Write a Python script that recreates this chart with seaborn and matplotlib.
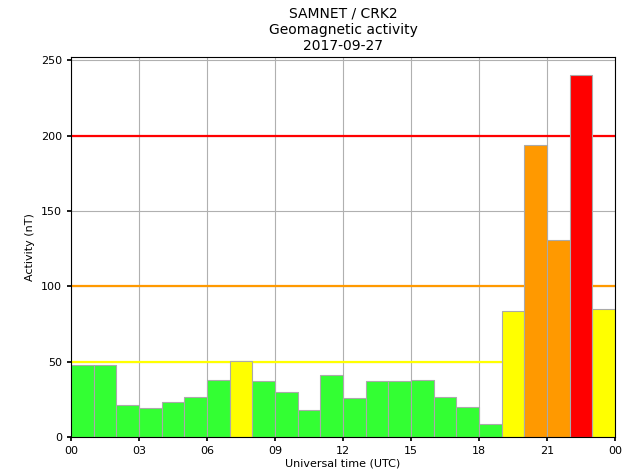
import numpy as np
import pandas as pd
import seaborn as sns
import matplotlib
matplotlib.use("Agg")
import matplotlib.pyplot as plt

# hourly activity, 2017-09-27, SAMNET CRK2
hours = list(range(24))
activity = [48, 48, 21, 19, 23, 26.5, 38, 50.5, 37, 30, 18, 41,
            26, 37, 37, 38, 26.5, 20, 9, 83.5, 194, 130.5, 240, 85]
thresholds = [50, 100, 200]
threshold_colours = ["#ffff00", "#ff9900", "#ff0000"]
level_names = ["green", "yellow", "amber", "red"]
level_colours = {"green": "#33ff33", "yellow": "#ffff00", "amber": "#ff9900", "red": "#ff0000"}
tick_hours = list(range(0, 25, 3))
tick_labels = ["00", "03", "06", "09", "12", "15", "18", "21", "00"]


def level_of(v):
    if v >= 200:
        return "red"
    if v >= 100:
        return "amber"
    if v >= 50:
        return "yellow"
    return "green"


df = pd.DataFrame({"hour": [h + 0.5 for h in hours], "activity": activity})
df["level"] = [level_of(v) for v in activity]

sns.set_theme(style="whitegrid")
plt.rcParams["font.family"] = ["DejaVu Sans"]
plt.rcParams["text.color"] = "black"
plt.rcParams["axes.labelcolor"] = "black"
plt.rcParams["xtick.color"] = "black"
plt.rcParams["ytick.color"] = "black"

fig = plt.figure(figsize=(6.29, 4.72), dpi=100)
ax = fig.add_axes([0.113, 0.074, 0.865, 0.8046])

for t, c in zip(thresholds, threshold_colours):
    ax.axhline(t, color=c, lw=1.6, zorder=1)

sns.barplot(data=df, x="hour", y="activity", hue="level", hue_order=level_names,
            palette=level_colours, native_scale=True, dodge=False, width=1,
            edgecolor="#aaaaaa", linewidth=0.8, saturation=1, legend=False,
            ax=ax, zorder=2)

ax.set_xlim(0, 24)
ax.set_ylim(0, 252)
ax.set_xticks(tick_hours)
ax.set_xticklabels(tick_labels)
ax.set_yticks([0, 50, 100, 150, 200, 250])
ax.tick_params(labelsize=8, length=3, color="black", bottom=True, left=True)
ax.grid(True, color="#b0b0b0", lw=0.8)
ax.set_axisbelow(True)
for s in ax.spines.values():
    s.set_color("black")
    s.set_linewidth(0.8)

ax.set_xlabel("Universal time (UTC)", fontsize=8, labelpad=2)
ax.set_ylabel("Activity (nT)", fontsize=8)
ax.set_title("SAMNET / CRK2\nGeomagnetic activity\n2017-09-27", fontsize=10, pad=5)

fig.savefig("out.png", dpi=100)
